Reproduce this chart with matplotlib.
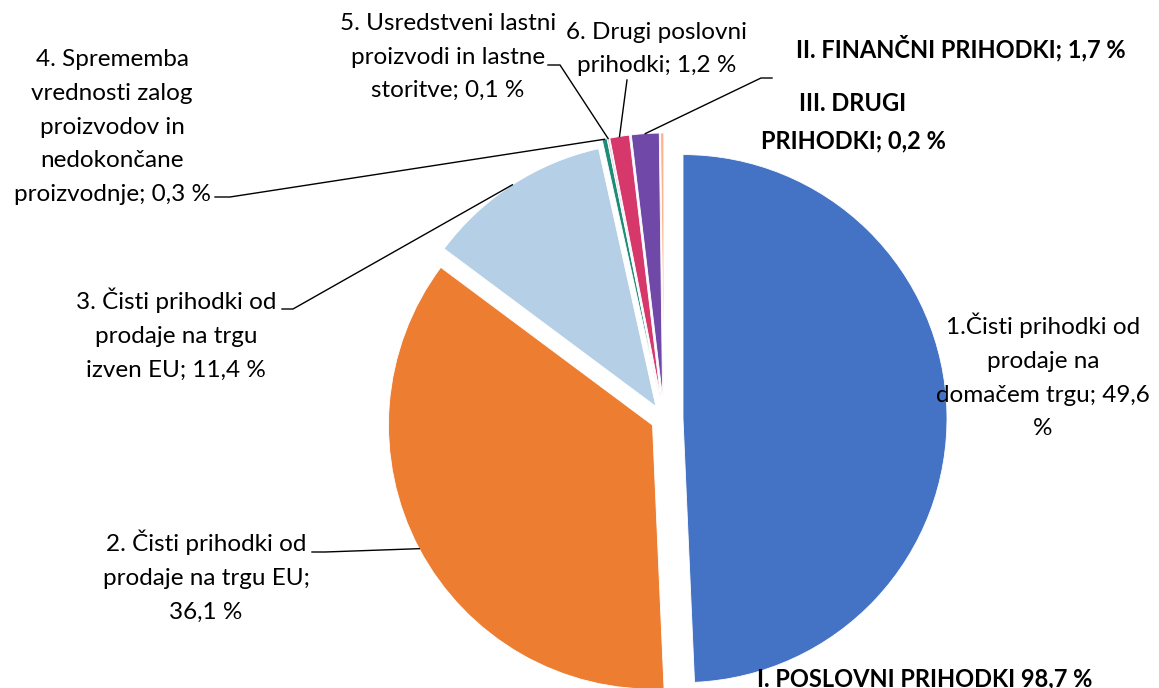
import numpy as np
import matplotlib
matplotlib.use("Agg")
import matplotlib.pyplot as plt

plt.rcParams['font.family'] = ['Lato', 'DejaVu Sans']

# shares of total revenue (%), clockwise from 12 o'clock
values = [49.6, 36.1, 11.4, 0.3, 0.1, 1.2, 1.7, 0.2]
labels = [
    "1.Čisti prihodki od\nprodaje na\ndomačem trgu; 49,6\n%",
    "2. Čisti prihodki od\nprodaje na trgu EU;\n36,1 %",
    "3. Čisti prihodki od\nprodaje na trgu\nizven EU; 11,4 %",
    "4. Sprememba\nvrednosti zalog\nproizvodov in\nnedokončane\nproizvodnje; 0,3 %",
    "5. Usredstveni lastni\nproizvodi in lastne\nstoritve; 0,1 %",
    "6. Drugi poslovni\nprihodki; 1,2 %",
    "II. FINANČNI PRIHODKI; 1,7 %",
    "III. DRUGI\nPRIHODKI; 0,2 %",
]
bold = [False, False, False, False, False, False, True, True]
total_label = "I. POSLOVNI PRIHODKI 98,7 %"

colors = ['#4472C4', '#ED7D31', '#B4CFE6', '#1E8C78',
          '#F2B8CB', '#D6386C', '#7048A8', '#FDB38F']
explode = [19, 13, 15, 22, 22, 22, 22, 22]   # in pixels (radius = 264)

# label centres (pixel coords, y up)
label_pos = [(1043, 312), (206, 112), (176, 354), (112, 561),
             (448, 631), (657, 639), (961, 640), (853, 566)]

# leader lines: (start, elbow) on the label side, None = no leader
leaders = [None,
           ((312, 136), (325, 136)),
           ((282, 379), (293, 379)),
           ((215, 491), (230, 491)),
           ((548, 623), (560, 623)),
           ((627, 608), (627, 608)),
           ((772, 610), (761, 610)),
           None]

fig = plt.figure(figsize=(11.59, 6.88), dpi=100)
ax = fig.add_axes([0, 0, 1, 1])

wedges, _ = ax.pie(values, colors=colors, explode=explode, startangle=90,
                   counterclock=False, radius=264, center=(664, 269),
                   wedgeprops=dict(edgecolor='white', linewidth=0.6))

for i, w in enumerate(wedges):
    fw = 'bold' if bold[i] else 'normal'
    fs = 17 if bold[i] else 17.5
    ax.text(label_pos[i][0], label_pos[i][1], labels[i], ha='center', va='center',
            multialignment='center', fontsize=fs, fontweight=fw,
            linespacing=1.75, color='black')
    if leaders[i] is None:
        continue
    mid = np.deg2rad((w.theta1 + w.theta2) / 2)
    ax_x = w.center[0] + w.r * np.cos(mid)
    ax_y = w.center[1] + w.r * np.sin(mid)
    (x0, y0), (x1, y1) = leaders[i]
    ax.plot([x0, x1, ax_x], [y0, y1, ax_y], color='black', lw=1.0,
            solid_joinstyle='miter')

ax.text(925, 2, total_label, ha='center', va='baseline', fontsize=17,
        fontweight='bold', color='black')

ax.set_xlim(0, 1159)
ax.set_ylim(0, 688)
ax.set_aspect('equal')
ax.axis('off')

fig.savefig('out.png', dpi=100)
